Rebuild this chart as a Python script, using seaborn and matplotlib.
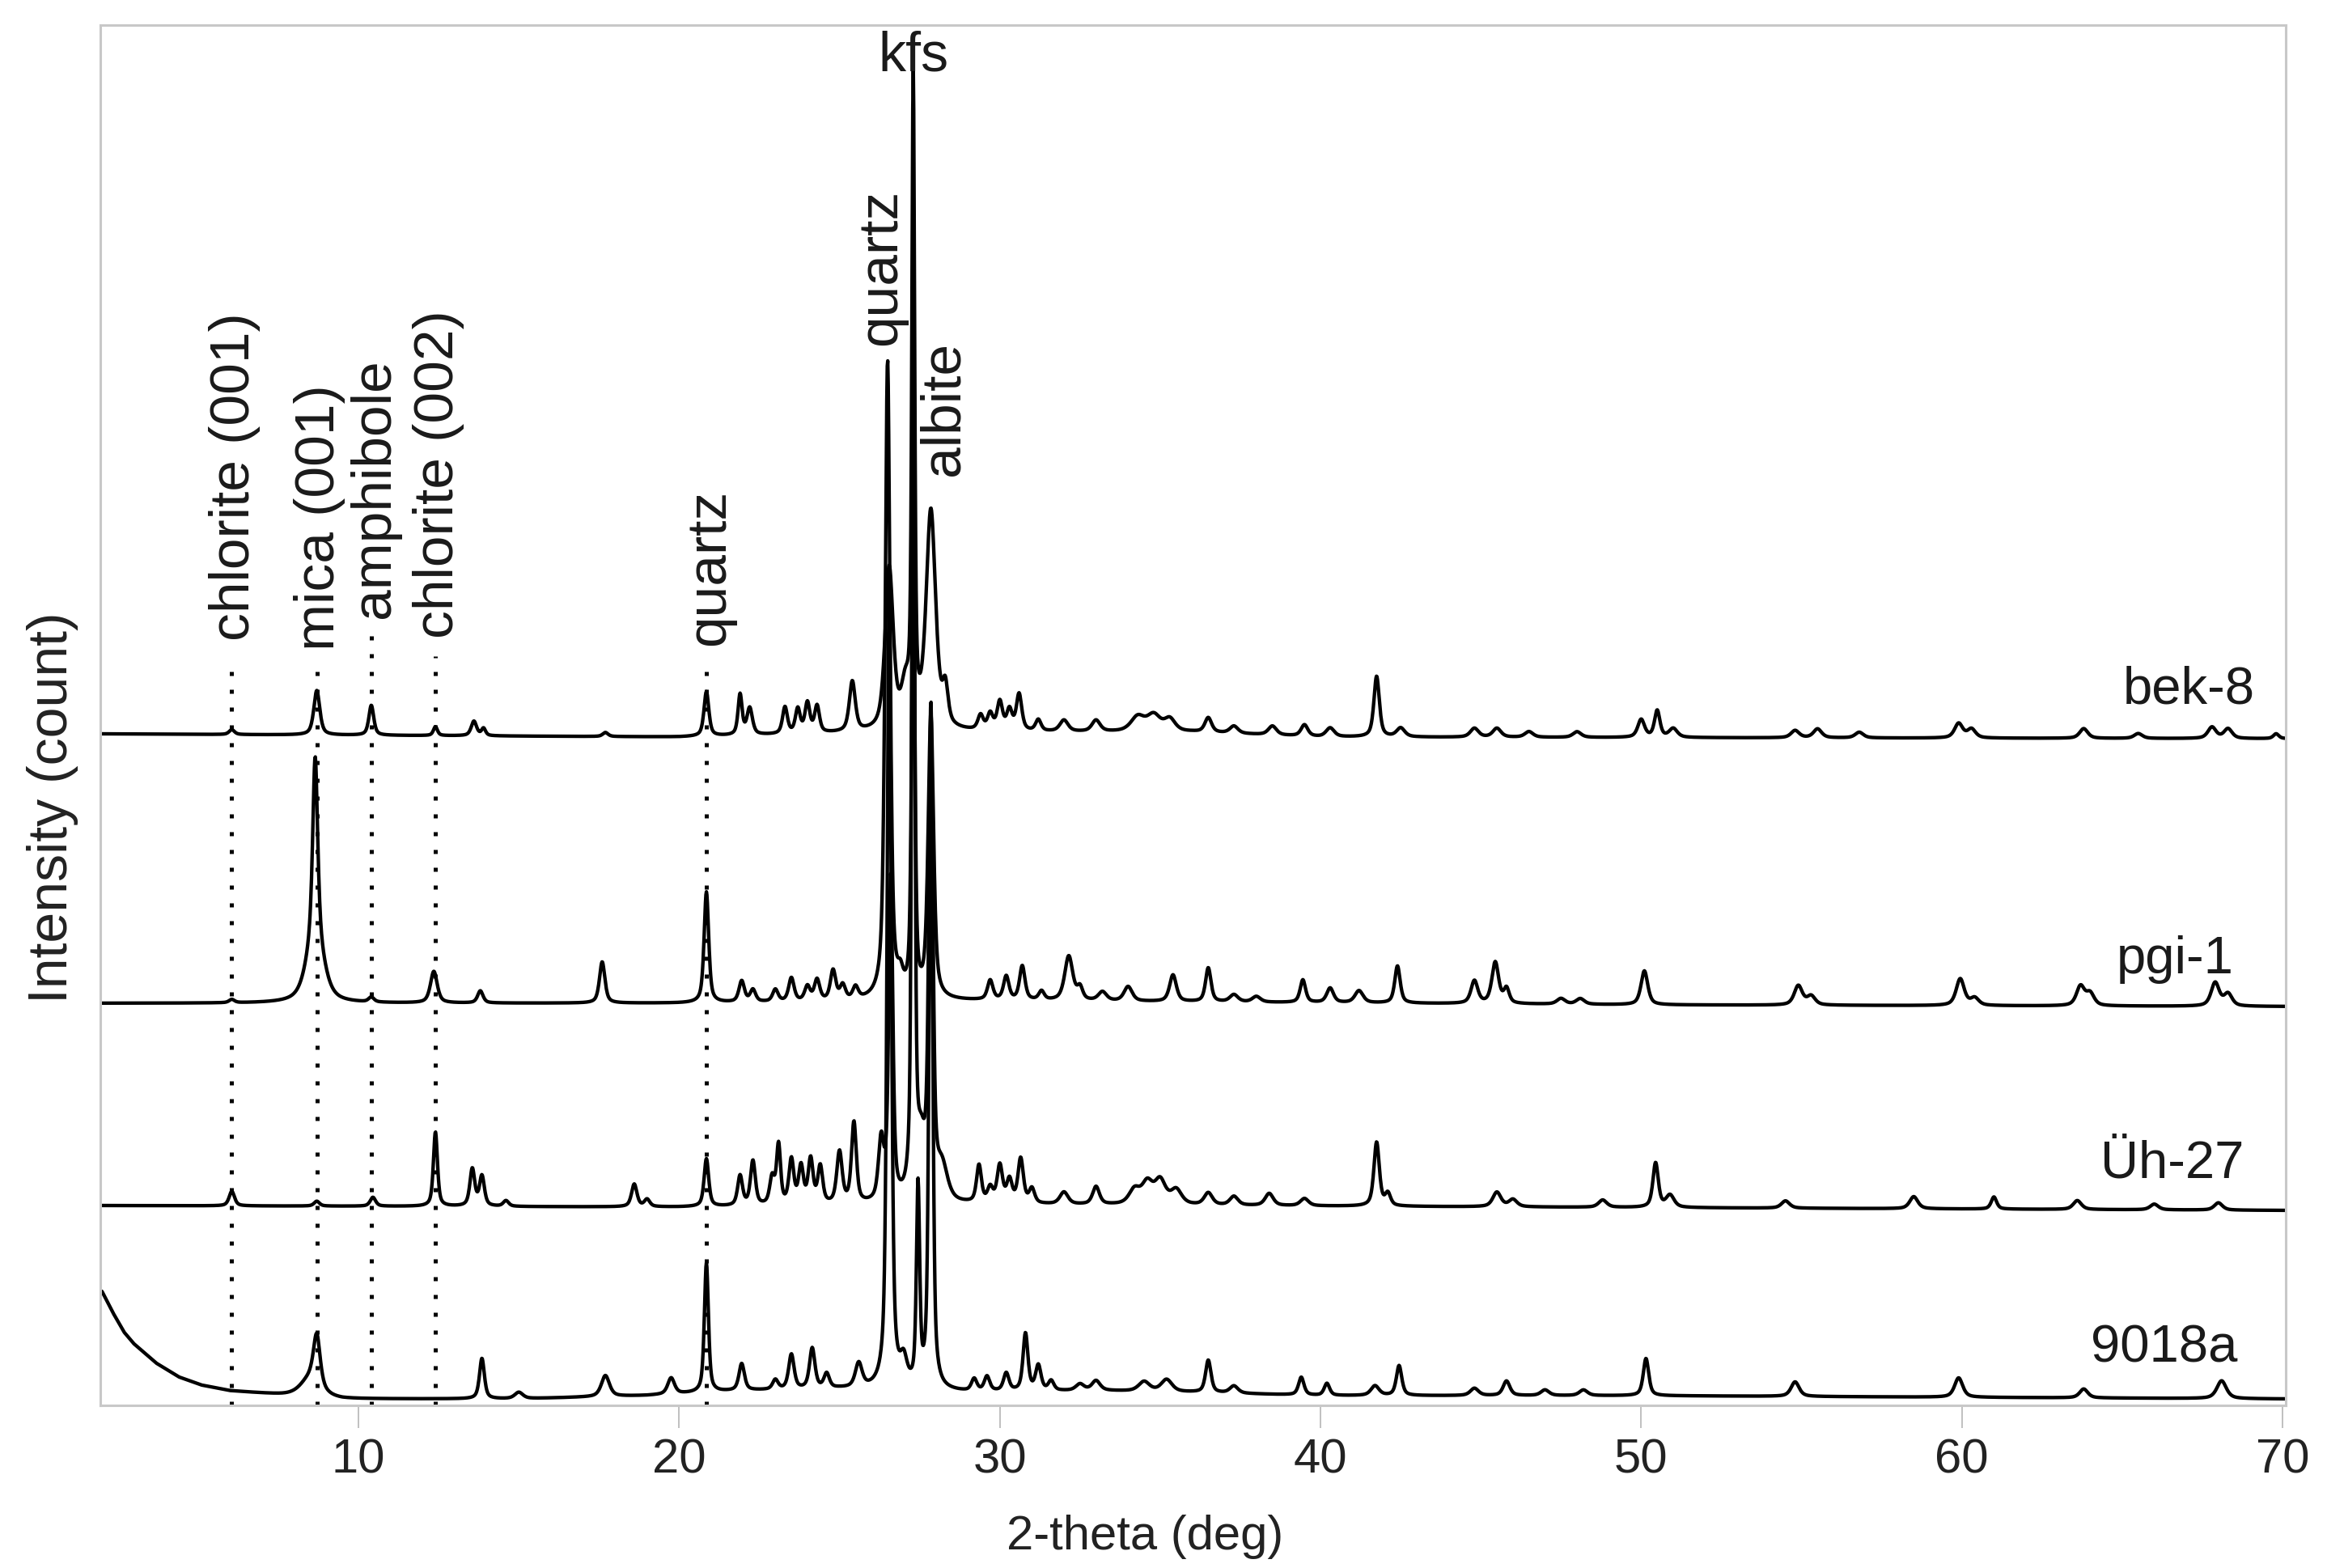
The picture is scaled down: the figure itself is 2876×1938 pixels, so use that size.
import numpy as np
import pandas as pd
import matplotlib
matplotlib.use('Agg')
import matplotlib.pyplot as plt
import seaborn as sns

# ---- data (intensity in arbitrary counts, stacked) ----
samples = ['bek-8', 'pgi-1', 'Üh-27', '9018a']

# background knots (2-theta, counts) per sample, includes stacking offset
bg_bek8 = [(2, 830), (20, 826), (25, 830), (30, 832), (36, 832), (40, 826), (70, 824)]
bg_pgi1 = [(2, 497), (20, 497), (30, 500), (50, 495), (70, 493)]
bg_uh27 = [(2, 247), (20, 245), (30, 248), (70, 241)]
bg_9018a = [(2, 141), (2.35, 114), (2.7, 90), (3.0, 76), (3.7, 52), (4.4, 35), (5.1, 25),
            (6.0, 18), (7.6, 13), (9.5, 8), (15, 8), (19, 12), (22, 18), (25, 20), (29, 16),
            (33, 18), (36, 16), (40, 12), (50, 12), (60, 10), (70, 8)]

# peaks: (position, height, fwhm)
peaks_bek8 = [
    (6.05, 6, 0.2), (8.7, 55, 0.22), (10.4, 37, 0.18), (12.4, 11, 0.15), (13.6, 18, 0.2),
    (13.9, 9, 0.15), (17.7, 5, 0.2), (20.85, 55, 0.18), (21.9, 50, 0.15), (22.2, 33, 0.2),
    (23.3, 33, 0.18), (23.7, 30, 0.18), (24.0, 37, 0.18), (24.3, 33, 0.18), (25.4, 62, 0.22),
    (26.55, 200, 0.3), (27.05, 45, 0.3), (27.3, 800, 0.1), (27.85, 270, 0.35), (28.3, 45, 0.2),
    (29.4, 18, 0.2), (29.7, 20, 0.2), (30.0, 35, 0.2), (30.3, 25, 0.2), (30.6, 45, 0.2),
    (31.2, 14, 0.2), (32.0, 14, 0.3), (33.0, 14, 0.3), (34.3, 18, 0.5), (34.8, 20, 0.5),
    (35.3, 15, 0.4), (36.5, 18, 0.25), (37.3, 9, 0.3), (38.5, 11, 0.3), (39.5, 14, 0.25),
    (40.3, 11, 0.3), (41.75, 75, 0.2), (42.5, 11, 0.3), (44.8, 11, 0.3), (45.5, 11, 0.3),
    (46.5, 7, 0.3), (48.0, 7, 0.3), (50.0, 22, 0.25), (50.5, 33, 0.2), (51.0, 11, 0.3),
    (54.8, 9, 0.3), (55.5, 11, 0.3), (56.8, 7, 0.3), (59.9, 18, 0.3), (60.3, 11, 0.3),
    (63.8, 12, 0.3), (65.5, 6, 0.3), (67.8, 14, 0.3), (68.3, 12, 0.3), (69.8, 6, 0.2),
]
peaks_pgi1 = [
    (6.05, 4, 0.2), (8.65, 220, 0.18), (8.65, 85, 0.6), (10.4, 6, 0.2), (12.35, 39, 0.25),
    (13.8, 15, 0.2), (17.6, 51, 0.2), (20.85, 137, 0.17), (21.95, 26, 0.2), (22.3, 15, 0.2),
    (23.0, 15, 0.2), (23.5, 29, 0.2), (24.0, 18, 0.2), (24.3, 26, 0.2), (24.8, 37, 0.2),
    (25.1, 18, 0.2), (25.5, 15, 0.2), (26.5, 790, 0.18), (26.9, 20, 0.2), (27.3, 550, 0.12),
    (27.85, 350, 0.2), (29.7, 24, 0.2), (30.2, 29, 0.2), (30.7, 42, 0.2), (31.3, 11, 0.2),
    (32.15, 55, 0.3), (32.5, 15, 0.2), (33.2, 11, 0.3), (34.0, 18, 0.3), (35.4, 33, 0.25),
    (36.5, 42, 0.2), (37.3, 9, 0.3), (38.0, 7, 0.3), (39.45, 28, 0.2), (40.3, 18, 0.25),
    (41.2, 15, 0.3), (42.4, 46, 0.2), (44.8, 28, 0.25), (45.45, 51, 0.25), (45.8, 18, 0.2),
    (47.5, 7, 0.3), (48.1, 7, 0.3), (50.1, 42, 0.25), (54.9, 24, 0.3), (55.3, 11, 0.3),
    (59.95, 33, 0.3), (60.4, 9, 0.3), (63.7, 24, 0.3), (64.0, 15, 0.3), (67.9, 29, 0.3),
    (68.3, 15, 0.3),
]
peaks_uh27 = [
    (6.05, 18, 0.2), (8.7, 6, 0.2), (10.45, 11, 0.2), (12.4, 92, 0.15), (13.55, 46, 0.18),
    (13.85, 37, 0.18), (14.6, 7, 0.2), (18.6, 28, 0.2), (19.0, 9, 0.2), (20.85, 59, 0.17),
    (21.9, 37, 0.18), (22.3, 55, 0.18), (22.9, 33, 0.18), (23.1, 73, 0.15), (23.5, 55, 0.18),
    (23.8, 46, 0.18), (24.1, 55, 0.18), (24.4, 46, 0.18), (25.0, 64, 0.2), (25.45, 100, 0.18),
    (26.3, 73, 0.2), (26.6, 400, 0.15), (27.3, 1240, 0.1), (27.55, 60, 0.3), (27.85, 600, 0.15),
    (28.2, 40, 0.4), (29.35, 46, 0.18), (29.7, 18, 0.2), (30.0, 46, 0.2), (30.3, 28, 0.2),
    (30.65, 55, 0.2), (31.0, 18, 0.2), (32.0, 15, 0.3), (33.0, 22, 0.25), (34.2, 18, 0.4),
    (34.6, 26, 0.4), (35.0, 29, 0.4), (35.5, 18, 0.4), (36.5, 15, 0.3), (37.3, 11, 0.3),
    (38.4, 15, 0.3), (39.5, 9, 0.3), (41.75, 79, 0.2), (42.1, 15, 0.2), (45.5, 18, 0.3),
    (46.0, 9, 0.3), (48.8, 9, 0.3), (50.45, 55, 0.2), (50.9, 15, 0.3), (54.5, 9, 0.3),
    (58.5, 15, 0.3), (61.0, 15, 0.2), (63.6, 11, 0.3), (66.0, 7, 0.3), (68.0, 9, 0.3),
]
peaks_9018a = [
    (8.5, 22, 0.7), (8.7, 62, 0.25), (13.85, 50, 0.18), (15.0, 8, 0.3), (17.7, 26, 0.3),
    (19.75, 20, 0.25), (20.85, 160, 0.15), (21.95, 33, 0.2), (23.0, 12, 0.2), (23.5, 43, 0.2),
    (24.15, 50, 0.2), (24.6, 18, 0.2), (25.6, 30, 0.25), (26.55, 1000, 0.15), (27.0, 30, 0.25),
    (27.45, 245, 0.12), (27.85, 820, 0.13), (29.2, 15, 0.2), (29.6, 18, 0.2), (30.2, 22, 0.2),
    (30.8, 71, 0.18), (31.2, 31, 0.2), (31.6, 12, 0.2), (32.5, 8, 0.3), (33.0, 12, 0.3),
    (34.5, 12, 0.4), (35.2, 15, 0.4), (36.5, 40, 0.2), (37.3, 9, 0.3), (39.4, 22, 0.2),
    (40.2, 15, 0.2), (41.7, 12, 0.3), (42.45, 37, 0.2), (44.8, 9, 0.3), (45.8, 18, 0.25),
    (47.0, 7, 0.3), (48.2, 7, 0.3), (50.15, 46, 0.2), (54.8, 18, 0.3), (59.9, 24, 0.3),
    (63.8, 11, 0.3), (68.1, 22, 0.35),
]

# sample label anchors (right edge x, baseline y)
label_x = [69.14, 68.48, 68.81, 68.59]
label_y = [868, 534, 281, 53]

# phase markers with dotted guide lines
marker_names = ['chlorite (001)', 'mica (001)', 'amphibole', 'chlorite (002)', 'quartz']
marker_pos = [6.05, 8.7, 10.4, 12.4, 20.85]
marker_text_y = [945, 933, 973, 948, 939]

# labels of the main peaks
main_names = ['quartz', 'kfs', 'albite']
main_pos = [26.3, 27.3, 28.26]
main_text_y = [1310, 1650, 1149]


def pseudo_voigt(x, pos, h, w, eta=0.6):
    lor = 1.0 / (1.0 + ((x - pos) / (w / 2)) ** 2)
    gau = np.exp(-4 * np.log(2) * ((x - pos) / w) ** 2)
    return h * (eta * lor + (1 - eta) * gau)


def build_trace(x, bg, peaks):
    bx, by = zip(*bg)
    y = np.interp(x, bx, by)
    for pos, h, w in peaks:
        y = y + pseudo_voigt(x, pos, h, w)
    return y


two_theta = np.arange(1.95, 70.1, 0.015)
frames = []
for name, bg, pk in zip(samples,
                        [bg_bek8, bg_pgi1, bg_uh27, bg_9018a],
                        [peaks_bek8, peaks_pgi1, peaks_uh27, peaks_9018a]):
    frames.append(pd.DataFrame({'two_theta': two_theta,
                                'intensity': build_trace(two_theta, bg, pk),
                                'sample': name}))
df = pd.concat(frames, ignore_index=True)

# ---- plot ----
sns.set_style('white')
plt.rcParams['font.family'] = ['Liberation Sans', 'DejaVu Sans']

W, H = 2876, 1938
fig = plt.figure(figsize=(W / 100, H / 100), dpi=100)
ax = fig.add_axes([124 / W, 1 - 1737 / H, (2825 - 124) / W, 1706 / H])

# dotted guide lines under the traces
for pos, ty in zip(marker_pos, marker_text_y):
    ax.plot([pos, pos], [0, ty - 22], color='black', lw=3.6,
            linestyle=(0, (1, 3.4)), zorder=1)

sns.lineplot(data=df, x='two_theta', y='intensity', hue='sample',
             palette={s: 'black' for s in samples}, estimator=None,
             sort=False, legend=False, lw=3.1, ax=ax, zorder=2)

for name, pos, ty in zip(marker_names, marker_pos, marker_text_y):
    ax.text(pos + 0.1, ty, name, rotation=90, ha='center', va='bottom',
            fontsize=50, color='#1a1a1a')

for name, pos, ty in zip(main_names, main_pos, main_text_y):
    if name == 'kfs':
        ax.text(pos, ty, name, ha='center', va='baseline', fontsize=49, color='#1a1a1a')
    else:
        ax.text(pos, ty, name, rotation=90, ha='center', va='bottom',
                fontsize=50, color='#1a1a1a')

for name, lx, ly in zip(samples, label_x, label_y):
    ax.text(lx, ly, name, ha='right', va='baseline', fontsize=47, color='#1a1a1a')

ax.set_xlim(1.95, 70.1)
ax.set_ylim(0, 1706)
ax.set_xticks([10, 20, 30, 40, 50, 60, 70])
ax.set_yticks([])
ax.tick_params(axis='x', bottom=True, direction='out', length=20, width=1.2,
               color='#b5b5b5', pad=9, labelsize=43, labelcolor='#222222')
for sp in ax.spines.values():
    sp.set_color('#c8c8c8')
    sp.set_linewidth(2.2)

ax.set_xlabel('2-theta (deg)', fontsize=43, color='#222222')
ax.set_ylabel('Intensity (count)', fontsize=49, color='#222222')
ax.xaxis.set_label_coords(0.478, -0.079)
ax.yaxis.set_label_coords(-0.010, 0.433)

fig.savefig('out.png', dpi=100, facecolor='white')
